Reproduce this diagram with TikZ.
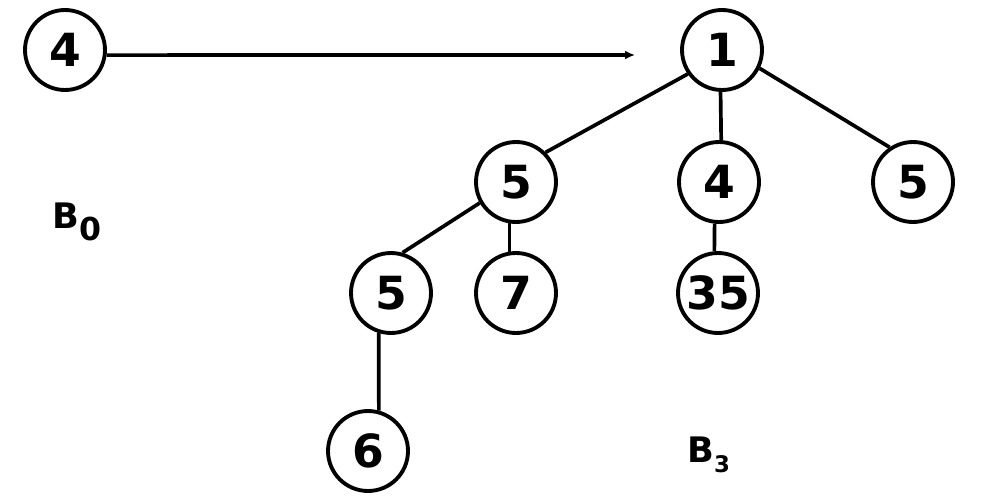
\documentclass[tikz,border=0pt]{standalone}
\usepackage{fontspec}
\setmainfont{DejaVu Sans}
\usetikzlibrary{arrows.meta}
\begin{document}
\begin{tikzpicture}[x=0.02cm,y=-0.02cm,
  vert/.style={circle,draw,line width=2.2pt,minimum size=1.6cm,inner sep=0pt,font=\fontsize{26}{28}\selectfont\bfseries},
  edge/.style={line width=2.1pt},
  lbl/.style={font=\fontsize{20}{22}\selectfont\bfseries,inner sep=0pt}]
\useasboundingbox (0,0) rectangle (1000,500);
\node[vert] (a) at (65,50) {4};
\node[vert] (r) at (722,50) {1};
\node[vert] (c1) at (516,182) {5};
\node[vert] (c2) at (719,182) {4};
\node[vert] (c3) at (913,182) {5};
\node[vert] (g1) at (391,293) {5};
\node[vert] (g2) at (516,293) {7};
\node[vert] (g3) at (718,293) {35};
\node[vert] (h1) at (368,451) {6};
\coordinate (tip) at (635,55);
\draw[edge,-{Latex[length=0.2cm,width=0.18cm]}] (a.-7) -- (tip);
\draw[edge] (r.215.7) -- (c1.45);
\draw[edge] (r.268) -- (c2.87);
\draw[edge] (r.334.7) -- (c3.124);
\draw[edge] (c1.210) -- (g1.74.6);
\draw[edge] (c1.261) -- (g2.99);
\draw[edge] (c2.264) -- (g3.95.5);
\draw[edge] (g1.253) -- (h1.75);
\node[lbl,anchor=base west] (b0) at (52,228) {B\raisebox{-0.35em}{\fontsize{18}{20}\selectfont 0}};
\node[lbl,anchor=base west] (b3) at (687,462) {B\raisebox{-0.3em}{\fontsize{13}{15}\selectfont 3}};
\end{tikzpicture}
\end{document}
